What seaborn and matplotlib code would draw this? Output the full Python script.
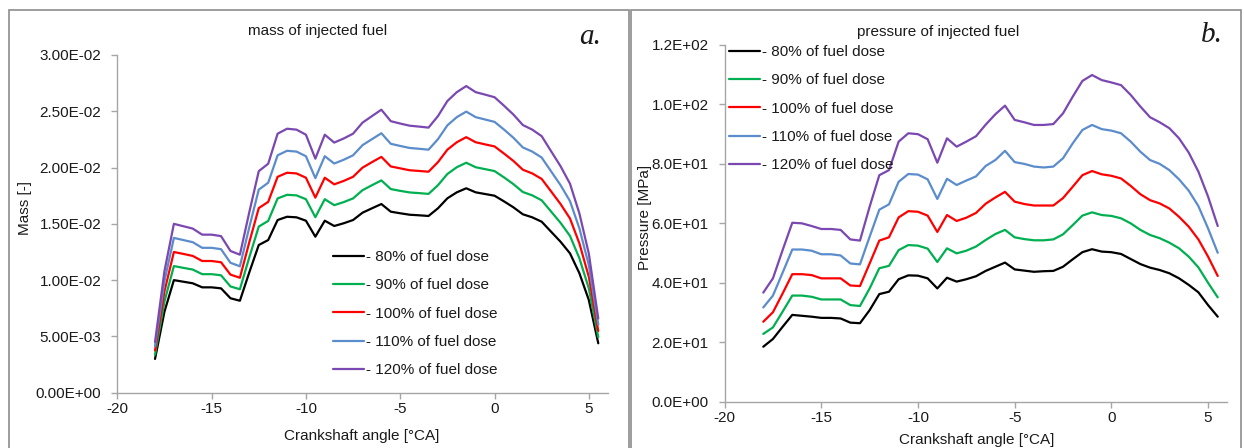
import numpy as np
import pandas as pd
import matplotlib
matplotlib.use("Agg")
import matplotlib.pyplot as plt
import seaborn as sns
from matplotlib.patches import Rectangle
from matplotlib.ticker import FuncFormatter

# ---------------- data ----------------
angle = [-18.0, -17.5, -17.0, -16.5, -16.0, -15.5, -15.0, -14.5, -14.0, -13.5,
         -13.0, -12.5, -12.0, -11.5, -11.0, -10.5, -10.0, -9.5, -9.0, -8.5,
         -8.0, -7.5, -7.0, -6.5, -6.0, -5.5, -5.0, -4.5, -4.0, -3.5,
         -3.0, -2.5, -2.0, -1.5, -1.0, -0.5, 0.0, 0.5, 1.0, 1.5,
         2.0, 2.5, 3.0, 3.5, 4.0, 4.5, 5.0, 5.5]

series_labels = ["- 80% of fuel dose", "- 90% of fuel dose", "- 100% of fuel dose",
                 "- 110% of fuel dose", "- 120% of fuel dose"]

# mass of injected fuel, in units of 1e-3
mass_80 = [3.00, 7.20, 10.00, 9.86, 9.72, 9.36, 9.36, 9.27, 8.39, 8.17,
           10.70, 13.12, 13.56, 15.34, 15.63, 15.58, 15.28, 13.86, 15.28, 14.81,
           15.05, 15.34, 15.99, 16.38, 16.76, 16.08, 15.94, 15.81, 15.76, 15.70,
           16.38, 17.27, 17.80, 18.16, 17.80, 17.65, 17.50, 17.00, 16.47, 15.85,
           15.58, 15.19, 14.30, 13.41, 12.38, 10.61, 8.23, 4.39]
mass_90 = [3.38, 8.10, 11.25, 11.09, 10.94, 10.53, 10.53, 10.43, 9.44, 9.19,
           12.04, 14.76, 15.26, 17.26, 17.58, 17.53, 17.19, 15.59, 17.19, 16.66,
           16.93, 17.26, 17.99, 18.43, 18.86, 18.09, 17.93, 17.79, 17.73, 17.66,
           18.43, 19.43, 20.03, 20.43, 20.03, 19.86, 19.69, 19.13, 18.53, 17.83,
           17.53, 17.09, 16.09, 15.09, 13.93, 11.94, 9.26, 4.94]
mass_100 = [3.75, 9.00, 12.50, 12.33, 12.15, 11.70, 11.70, 11.59, 10.49, 10.21,
            13.38, 16.40, 16.95, 19.18, 19.54, 19.48, 19.10, 17.33, 19.10, 18.51,
            18.81, 19.18, 19.99, 20.48, 20.95, 20.10, 19.93, 19.76, 19.70, 19.63,
            20.48, 21.59, 22.25, 22.70, 22.25, 22.06, 21.88, 21.25, 20.59, 19.81,
            19.48, 18.99, 17.88, 16.76, 15.48, 13.26, 10.29, 5.49]
mass_110 = [4.13, 9.90, 13.75, 13.56, 13.37, 12.87, 12.87, 12.75, 11.54, 11.23,
            14.71, 18.04, 18.65, 21.09, 21.49, 21.42, 21.01, 19.06, 21.01, 20.36,
            20.69, 21.09, 21.99, 22.52, 23.05, 22.11, 21.92, 21.74, 21.67, 21.59,
            22.52, 23.75, 24.48, 24.97, 24.48, 24.27, 24.06, 23.38, 22.65, 21.79,
            21.42, 20.89, 19.66, 18.44, 17.02, 14.59, 11.32, 6.04]
mass_120 = [4.50, 10.80, 15.00, 14.79, 14.58, 14.04, 14.04, 13.91, 12.59, 12.26,
            16.05, 19.68, 20.34, 23.01, 23.45, 23.37, 22.92, 20.79, 22.92, 22.22,
            22.58, 23.01, 23.99, 24.57, 25.14, 24.12, 23.91, 23.72, 23.64, 23.55,
            24.57, 25.91, 26.70, 27.24, 26.70, 26.48, 26.25, 25.50, 24.71, 23.78,
            23.37, 22.79, 21.45, 20.12, 18.57, 15.92, 12.35, 6.59]

# pressure of injected fuel [MPa]
press_80 = [18.5, 21.1, 25.2, 29.2, 28.9, 28.6, 28.2, 28.2, 28.0, 26.6,
            26.4, 30.8, 36.2, 37.0, 41.2, 42.5, 42.4, 41.5, 38.1, 41.7,
            40.4, 41.2, 42.2, 44.0, 45.4, 46.8, 44.5, 44.1, 43.7, 43.9,
            44.0, 45.4, 47.9, 50.3, 51.3, 50.5, 50.3, 49.7, 48.0, 46.3,
            45.1, 44.3, 43.2, 41.5, 39.3, 36.8, 32.5, 28.6]
press_90 = [22.8, 25.0, 30.3, 35.7, 35.7, 35.3, 34.4, 34.4, 34.4, 32.5,
            32.2, 38.1, 44.9, 45.7, 51.0, 52.7, 52.5, 51.5, 47.0, 51.6,
            49.9, 50.8, 52.2, 54.4, 56.4, 57.8, 55.3, 54.7, 54.3, 54.3,
            54.6, 56.3, 59.4, 62.6, 63.7, 62.8, 62.5, 61.7, 60.0, 57.8,
            56.1, 55.0, 53.5, 51.6, 48.8, 45.2, 40.0, 35.1]
press_100 = [26.9, 30.1, 36.4, 42.9, 42.9, 42.6, 41.5, 41.5, 41.5, 39.1,
             38.9, 46.5, 54.2, 55.3, 62.0, 64.1, 63.9, 62.6, 57.1, 62.8,
             60.8, 61.9, 63.5, 66.6, 68.7, 70.6, 67.3, 66.5, 66.0, 66.0,
             66.0, 68.5, 72.3, 76.2, 77.6, 76.5, 76.0, 75.1, 72.6, 69.8,
             67.8, 66.7, 65.0, 62.2, 58.9, 54.6, 48.8, 42.3]
press_110 = [31.7, 35.7, 43.4, 51.2, 51.2, 50.8, 49.6, 49.6, 49.2, 46.5,
             46.2, 55.5, 64.6, 66.4, 74.0, 76.6, 76.4, 74.8, 68.2, 75.0,
             72.9, 74.4, 75.8, 79.3, 81.3, 84.4, 80.6, 80.0, 79.1, 78.8,
             79.1, 81.9, 86.9, 91.4, 93.1, 91.7, 91.2, 90.3, 87.5, 84.1,
             81.3, 80.0, 77.9, 74.8, 71.0, 65.8, 58.3, 50.1]
press_120 = [36.7, 41.5, 51.0, 60.2, 60.0, 59.1, 58.1, 58.1, 57.8, 54.6,
             54.2, 65.6, 76.2, 77.9, 87.5, 90.3, 90.0, 88.3, 80.4, 88.6,
             85.8, 87.5, 89.3, 93.2, 96.7, 99.6, 94.8, 94.0, 93.1, 93.1,
             93.4, 97.0, 102.6, 107.9, 109.9, 108.2, 107.4, 106.5, 103.2, 99.3,
             95.7, 94.0, 92.0, 88.6, 83.8, 77.4, 69.0, 59.1]

mass_ticks = [0.0, 0.005, 0.010, 0.015, 0.020, 0.025, 0.030]
press_ticks = [0, 20, 40, 60, 80, 100, 120]
x_ticks = [-20, -15, -10, -5, 0, 5]

colors = ["#000000", "#00B050", "#FF0000", "#5B8CCB", "#7A48B0"]

# ---------------- build tables ----------------
def long_table(series_list, scale=1.0):
    rows = []
    for lab, vals in zip(series_labels, series_list):
        for a, v in zip(angle, vals):
            rows.append({"angle": a, "value": v * scale, "series": lab})
    return pd.DataFrame(rows)

df_mass = long_table([mass_80, mass_90, mass_100, mass_110, mass_120], 1e-3)
df_press = long_table([press_80, press_90, press_100, press_110, press_120])

# ---------------- style ----------------
sns.set_theme(style="white")
plt.rcParams["font.family"] = ["Liberation Sans", "DejaVu Sans"]

W, H = 1244, 448
fig = plt.figure(figsize=(W / 100, H / 100), dpi=100)
fig.patch.set_facecolor("white")

def fx(px):
    return px / W

def fy(py):
    return 1 - py / H

# chart-area borders (Excel style)
for x0, x1 in [(8.5, 628.5), (630.5, 1240.5)]:
    fig.patches.append(Rectangle((fx(x0), fy(470)), fx(x1 - x0), 460 / H,
                                 transform=fig.transFigure, fill=False,
                                 edgecolor="#8C8C8C", lw=1.2))

axL = fig.add_axes([fx(117.3), fy(392.7), fx(490.4), 337.7 / H])
axR = fig.add_axes([fx(724.6), fy(401.7), fx(502.8), 356.7 / H])

gray = "#A6A6A6"
txt = "#1A1A1A"

def style_axis(ax):
    for s in ["top", "right"]:
        ax.spines[s].set_visible(False)
    for s in ["left", "bottom"]:
        ax.spines[s].set_color(gray)
        ax.spines[s].set_linewidth(1.0)
    ax.tick_params(axis="both", which="major", direction="out", length=4, width=1,
                   color=gray, labelsize=11, labelcolor=txt, bottom=True, left=True)
    ax.tick_params(axis="y", pad=7.5)
    ax.tick_params(axis="x", pad=3)
    ax.grid(False)
    ax.set_facecolor("white")

for ax, df in [(axL, df_mass), (axR, df_press)]:
    sns.lineplot(data=df, x="angle", y="value", hue="series",
                 hue_order=series_labels, palette=colors, ax=ax,
                 estimator=None, sort=False, linewidth=1.6)
    style_axis(ax)
    ax.set_xlim(-20, 6)
    ax.set_xticks(x_ticks)
    ax.set_xticklabels([str(t) for t in x_ticks])

axL.set_ylim(0, 0.03)
axL.set_yticks(mass_ticks)
axL.yaxis.set_major_formatter(FuncFormatter(lambda v, _: f"{v:.2E}"))
axR.set_ylim(0, 120)
axR.set_yticks(press_ticks)
axR.yaxis.set_major_formatter(FuncFormatter(lambda v, _: f"{v:.1E}"))

# axis labels
for ax, ylab, xpos_x, xpos_y, ypos_x, ypos_y in [
        (axL, "Mass [-]", 362, 436, 25, 208),
        (axR, "Pressure [MPa]", 977, 440, 645, 217)]:
    ax.set_xlabel("Crankshaft angle [°CA]", fontsize=11, color=txt)
    ax.set_ylabel(ylab, fontsize=11, color=txt)
    ax.xaxis.set_label_coords(fx(xpos_x), fy(xpos_y), transform=fig.transFigure)
    ax.yaxis.set_label_coords(fx(ypos_x), fy(ypos_y), transform=fig.transFigure)
    ax.xaxis.label.set_va("center")
    ax.yaxis.label.set_va("center")

# legends
for ax, (lx, ly) in [(axL, (333, 250)), (axR, (729, 45))]:
    handles, labels = ax.get_legend_handles_labels()
    if ax.get_legend() is not None:
        ax.get_legend().remove()
    ax.legend(handles, labels, loc="upper left",
              bbox_to_anchor=(fx(lx), fy(ly)), bbox_transform=fig.transFigure,
              frameon=False, fontsize=11, handlelength=2.0, handletextpad=0.15,
              labelspacing=0.94, borderpad=0, borderaxespad=0, labelcolor=txt)

# titles and panel letters
fig.text(fx(318), fy(31), "mass of injected fuel", ha="center", va="center",
         fontsize=11, color=txt)
fig.text(fx(938), fy(32), "pressure of injected fuel", ha="center", va="center",
         fontsize=11, color=txt)
fig.text(fx(590), fy(37), "a.", ha="center", va="center", fontsize=21,
         style="italic", family="Liberation Serif", color=txt)
fig.text(fx(1212), fy(35), "b.", ha="center", va="center", fontsize=21,
         style="italic", family="Liberation Serif", color=txt)

fig.savefig("out.png", dpi=100, facecolor="white")
